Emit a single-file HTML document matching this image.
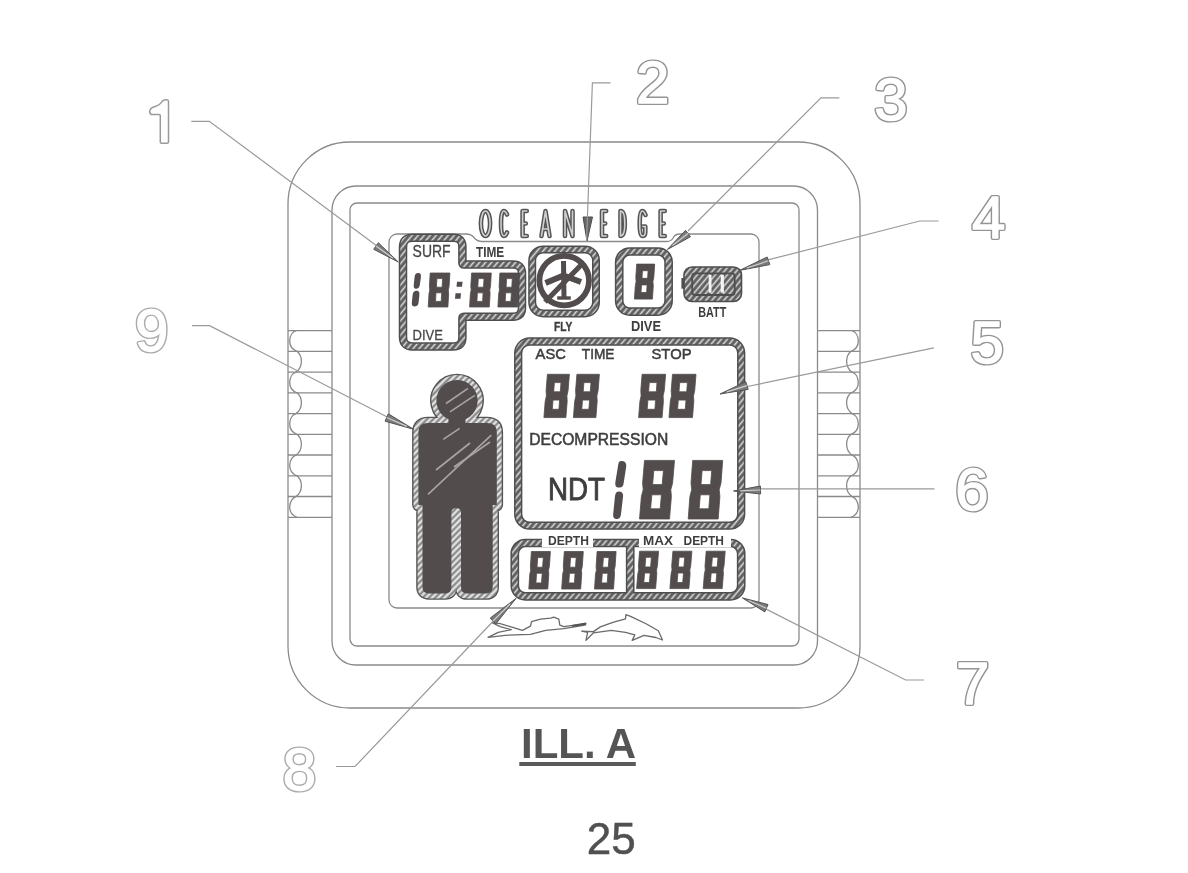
<!DOCTYPE html><html><head><meta charset="utf-8"><style>html,body{margin:0;padding:0;background:#fff;width:1188px;height:873px;overflow:hidden}svg{display:block;will-change:transform}</style></head><body><svg width="1188" height="873" viewBox="0 0 1188 873">
<defs><pattern id="hatch" width="4.6" height="4.6" patternUnits="userSpaceOnUse" patternTransform="rotate(40)"><rect width="4.6" height="4.6" fill="#5e5e5e"/><rect x="1.6" width="1.6" height="4.6" fill="#d8d8d8"/></pattern><pattern id="hatch2" width="4.4" height="4.4" patternUnits="userSpaceOnUse" patternTransform="rotate(45)"><rect width="4.4" height="4.4" fill="#8a8a8a"/><rect x="1.2" width="2.0" height="4.4" fill="#ececec"/></pattern></defs>
<rect width="1188" height="873" fill="#fff"/>
<g fill="none" stroke="#8a8a8a" stroke-width="1.3">
<path d="M350,142 H798 A62,62 0 0 1 860,204 V646 A62,62 0 0 1 798,708 H350 A62,62 0 0 1 288,646 V204 A62,62 0 0 1 350,142 Z"/>
<path d="M356,186 H793.5 A24,24 0 0 1 817.5,210 V641 A24,24 0 0 1 793.5,665 H356 A24,24 0 0 1 332,641 V210 A24,24 0 0 1 356,186 Z"/>
<path d="M357,203 H792 A7,7 0 0 1 799,210 V639 A7,7 0 0 1 792,646 H357 A7,7 0 0 1 350,639 V210 A7,7 0 0 1 357,203 Z"/>
<path d="M389,242 A8,8 0 0 1 397,234 H466 Q471,234 474,237.5 Q477,241.5 482,241.5 H667 Q671,241.5 673,238 Q675,234 680,234 H751 A8,8 0 0 1 759,242 V600 A8,8 0 0 1 751,608 H397 A8,8 0 0 1 389,600 Z"/>
<path d="M288,330.6 H332 M860,330.6 H817.5"/>
<path d="M288,351.3 H332 M860,351.3 H817.5"/>
<path d="M288,372.1 H332 M860,372.1 H817.5"/>
<path d="M288,392.8 H332 M860,392.8 H817.5"/>
<path d="M288,413.6 H332 M860,413.6 H817.5"/>
<path d="M288,434.3 H332 M860,434.3 H817.5"/>
<path d="M288,455.0 H332 M860,455.0 H817.5"/>
<path d="M288,475.8 H332 M860,475.8 H817.5"/>
<path d="M288,496.5 H332 M860,496.5 H817.5"/>
<path d="M288,517.3 H332 M860,517.3 H817.5"/>
<path d="M296,330.6 C289,332.6 286,347.3 297,351.3 C303,356.3 303,367.1 296,372.1 C289,374.1 286,388.8 297,392.8 C303,397.8 303,408.6 296,413.6 C289,415.6 286,430.3 297,434.3 C303,439.3 303,450.0 296,455.0 C289,457.0 286,471.8 297,475.8 C303,480.8 303,491.5 296,496.5 C289,498.5 286,513.3 297,517.3 "/><path d="M852,330.6 C859,332.6 862,347.3 851,351.3 C845,356.3 845,367.1 852,372.1 C859,374.1 862,388.8 851,392.8 C845,397.8 845,408.6 852,413.6 C859,415.6 862,430.3 851,434.3 C845,439.3 845,450.0 852,455.0 C859,457.0 862,471.8 851,475.8 C845,480.8 845,491.5 852,496.5 C859,498.5 862,513.3 851,517.3 "/>
</g>
<path d="M412.5,237.7 L453.4,237.7 Q462.4,237.7 462.4,246.7 L462.4,263.0 Q462.4,264.5 463.9,264.5 L513.0,264.5 Q522.0,264.5 522.0,273.5 L522.0,307.7 Q522.0,316.7 513.0,316.7 L463.9,316.7 Q462.4,316.7 462.4,318.2 L462.4,337.4 Q462.4,346.4 453.4,346.4 L412.5,346.4 Q403.0,346.4 403.0,336.9 L403.0,247.2 Q403.0,237.7 412.5,237.7 Z" fill="none" stroke="#4e4e4e" stroke-width="8.5" stroke-linejoin="round" />
<path d="M412.5,237.7 L453.4,237.7 Q462.4,237.7 462.4,246.7 L462.4,263.0 Q462.4,264.5 463.9,264.5 L513.0,264.5 Q522.0,264.5 522.0,273.5 L522.0,307.7 Q522.0,316.7 513.0,316.7 L463.9,316.7 Q462.4,316.7 462.4,318.2 L462.4,337.4 Q462.4,346.4 453.4,346.4 L412.5,346.4 Q403.0,346.4 403.0,336.9 L403.0,247.2 Q403.0,237.7 412.5,237.7 Z" fill="none" stroke="url(#hatch)" stroke-width="5.5" stroke-linejoin="round" />
<path d="M543.2,249.4 H585 A11,11 0 0 1 596,260.4 V302.5 A11,11 0 0 1 585,313.5 H543.2 A11,11 0 0 1 532.2,302.5 V260.4 A11,11 0 0 1 543.2,249.4 Z" fill="none" stroke="#4e4e4e" stroke-width="8.0" stroke-linejoin="round" />
<path d="M543.2,249.4 H585 A11,11 0 0 1 596,260.4 V302.5 A11,11 0 0 1 585,313.5 H543.2 A11,11 0 0 1 532.2,302.5 V260.4 A11,11 0 0 1 543.2,249.4 Z" fill="none" stroke="url(#hatch)" stroke-width="5.0" stroke-linejoin="round" />
<path d="M629.7,251.5 H658.1 A10.5,10.5 0 0 1 668.6,262.0 V301.1 A10.5,10.5 0 0 1 658.1,311.6 H629.7 A10.5,10.5 0 0 1 619.2,301.1 V262.0 A10.5,10.5 0 0 1 629.7,251.5 Z" fill="none" stroke="#4e4e4e" stroke-width="8.7" stroke-linejoin="round" />
<path d="M629.7,251.5 H658.1 A10.5,10.5 0 0 1 668.6,262.0 V301.1 A10.5,10.5 0 0 1 658.1,311.6 H629.7 A10.5,10.5 0 0 1 619.2,301.1 V262.0 A10.5,10.5 0 0 1 629.7,251.5 Z" fill="none" stroke="url(#hatch)" stroke-width="5.699999999999999" stroke-linejoin="round" />
<path d="M529.7,341.5 H729.7 A11.5,11.5 0 0 1 741.2,353.0 V514.2 A11.5,11.5 0 0 1 729.7,525.7 H529.7 A11.5,11.5 0 0 1 518.2,514.2 V353.0 A11.5,11.5 0 0 1 529.7,341.5 Z" fill="none" stroke="#4e4e4e" stroke-width="8.3" stroke-linejoin="round" />
<path d="M529.7,341.5 H729.7 A11.5,11.5 0 0 1 741.2,353.0 V514.2 A11.5,11.5 0 0 1 729.7,525.7 H529.7 A11.5,11.5 0 0 1 518.2,514.2 V353.0 A11.5,11.5 0 0 1 529.7,341.5 Z" fill="none" stroke="url(#hatch)" stroke-width="5.300000000000001" stroke-linejoin="round" />
<path d="M525.3,543 H730.7 A10.5,10.5 0 0 1 741.2,553.5 V585.8 A10.5,10.5 0 0 1 730.7,596.3 H525.3 A10.5,10.5 0 0 1 514.8,585.8 V553.5 A10.5,10.5 0 0 1 525.3,543 Z M630.2,543 V596.3" fill="none" stroke="#4e4e4e" stroke-width="8.7" stroke-linejoin="round" />
<path d="M525.3,543 H730.7 A10.5,10.5 0 0 1 741.2,553.5 V585.8 A10.5,10.5 0 0 1 730.7,596.3 H525.3 A10.5,10.5 0 0 1 514.8,585.8 V553.5 A10.5,10.5 0 0 1 525.3,543 Z M630.2,543 V596.3" fill="none" stroke="url(#hatch)" stroke-width="5.699999999999999" stroke-linejoin="round" />
<path d="M692,267 H733.5 A8,8 0 0 1 741.5,275 V293.5 A8,8 0 0 1 733.5,301.5 H692 A8,8 0 0 1 684,293.5 V275 A8,8 0 0 1 692,267 Z" fill="url(#hatch)" stroke="#4e4e4e" stroke-width="1.6"/>
<rect x="681.4" y="278" width="3" height="10.7" fill="#4e4e4e"/>
<rect x="692.2" y="273.4" width="42.5" height="21.6" rx="3" fill="url(#hatch)" stroke="#4e4e4e" stroke-width="1.8"/>
<rect x="708.7" y="275" width="2.8" height="17.7" fill="#f4f4f4"/><rect x="720.7" y="275" width="3.2" height="17.7" fill="#f4f4f4"/>
<rect x="542" y="534" width="51" height="13" fill="#fff"/>
<rect x="639" y="534" width="92" height="13" fill="#fff"/>
<path d="M448.5,423 H428 Q418.4,423 418.4,432 V505 H422.5 V587 Q422.5,593.5 429,593.5 H445 Q451.4,593.5 451.4,587 V513 Q451.4,508 456.2,508 Q461,508 461,513 V587 Q461,593.5 467,593.5 H486 Q492.7,593.5 492.7,587 V505 H496.8 V432 Q496.8,423 487,423 H465.5 V419.3 A20.6,20.6 0 1 0 448.5,419.3 Z" fill="none" stroke="#555" stroke-width="12.6" stroke-linejoin="round"/>
<path d="M448.5,423 H428 Q418.4,423 418.4,432 V505 H422.5 V587 Q422.5,593.5 429,593.5 H445 Q451.4,593.5 451.4,587 V513 Q451.4,508 456.2,508 Q461,508 461,513 V587 Q461,593.5 467,593.5 H486 Q492.7,593.5 492.7,587 V505 H496.8 V432 Q496.8,423 487,423 H465.5 V419.3 A20.6,20.6 0 1 0 448.5,419.3 Z" fill="none" stroke="url(#hatch2)" stroke-width="9.8" stroke-linejoin="round"/>
<path d="M448.5,423 H428 Q418.4,423 418.4,432 V505 H422.5 V587 Q422.5,593.5 429,593.5 H445 Q451.4,593.5 451.4,587 V513 Q451.4,508 456.2,508 Q461,508 461,513 V587 Q461,593.5 467,593.5 H486 Q492.7,593.5 492.7,587 V505 H496.8 V432 Q496.8,423 487,423 H465.5 V419.3 A20.6,20.6 0 1 0 448.5,419.3 Z" fill="#524c4d"/>
<g stroke="#a9a4a5" stroke-width="1.6" fill="none"><path d="M428,494.4 L491.3,435.2"/><path d="M454,467 L490,442"/><path d="M443.2,439.3 L459.7,428.3"/><path d="M446,403.5 L468,388.4"/><path d="M450,411.8 L474.8,395.3"/><path d="M436,470 L470,443"/></g>
<circle cx="564.2" cy="280.6" r="24.8" fill="none" stroke="#524c4d" stroke-width="5.8"/>
<g stroke="#524c4d" fill="none" stroke-linecap="butt"><path d="M563.5,261 L564,297.5" stroke-width="5"/><path d="M557.2,298 H570.8" stroke-width="3.4"/><path d="M545.5,283 L563.5,275.5 L581,282" stroke-width="6" stroke-linejoin="round"/><path d="M584,262 L545,302" stroke-width="5.2"/></g>
<path d="M418,273 C421,273 421.2,275 420.8,278 L419.8,285 C419.3,288 418,288.7 416,288.7 C413.8,288.7 413.5,287 413.8,284.5 L414.6,277 C415,274 416,273 418,273 Z M416.5,290.8 C419.5,290.8 419.7,293 419.3,296 L418.5,303 C418,305.7 416.5,306.4 414.5,306.4 C412,306.4 411.6,304.5 411.9,302 L412.6,295 C413,292 414.3,290.8 416.5,290.8 Z" fill="#524c4d"/>
<path d="M430.2,273.0 L449.9,273.0 L449.1,286.5 L448.3,290.0 L448.7,293.5 L447.9,307.0 L428.2,307.0 L429.0,293.5 L429.8,290.0 L429.4,286.5 Z M436.9,278.6 L442.6,278.6 L442.1,287.2 L436.4,287.2 Z M436.0,292.8 L441.7,292.8 L441.2,301.4 L435.5,301.4 Z" fill="#524c4d" fill-rule="evenodd" stroke="#524c4d" stroke-width="0.8" stroke-linejoin="round"/>
<path d="M457,281.7 H462.6 L462,286.7 H456.5 Z M455.5,293.3 H461 L460.5,298.8 H455 Z" fill="#524c4d"/>
<path d="M471.6,273.0 L491.3,273.0 L490.5,286.5 L489.7,290.0 L490.1,293.5 L489.3,307.0 L469.6,307.0 L470.4,293.5 L471.2,290.0 L470.8,286.5 Z M478.3,278.6 L484.0,278.6 L483.5,287.2 L477.8,287.2 Z M477.4,292.8 L483.1,292.8 L482.6,301.4 L476.9,301.4 Z" fill="#524c4d" fill-rule="evenodd" stroke="#524c4d" stroke-width="0.8" stroke-linejoin="round"/>
<path d="M499.9,273.0 L519.6,273.0 L518.8,286.5 L518.0,290.0 L518.4,293.5 L517.6,307.0 L497.9,307.0 L498.7,293.5 L499.5,290.0 L499.1,286.5 Z M506.6,278.6 L512.3,278.6 L511.8,287.2 L506.1,287.2 Z M505.7,292.8 L511.4,292.8 L510.9,301.4 L505.2,301.4 Z" fill="#524c4d" fill-rule="evenodd" stroke="#524c4d" stroke-width="0.8" stroke-linejoin="round"/>
<path d="M636.7,264.1 L654.7,264.1 L653.8,277.4 L652.9,281.6 L653.3,285.8 L652.4,299.1 L634.4,299.1 L635.3,285.8 L636.1,281.6 L635.8,277.4 Z M642.5,270.7 L648.1,270.7 L647.6,278.3 L642.0,278.3 Z M641.5,284.9 L647.1,284.9 L646.6,292.5 L641.0,292.5 Z" fill="#524c4d" fill-rule="evenodd" stroke="#524c4d" stroke-width="0.8" stroke-linejoin="round"/>
<path d="M547.4,374.3 L569.4,374.3 L568.1,390.6 L566.9,395.9 L567.2,401.3 L565.9,417.6 L543.9,417.6 L545.2,401.3 L546.4,395.9 L546.1,390.6 Z M554.4,382.6 L561.0,382.6 L560.3,391.8 L553.7,391.8 Z M553.0,400.1 L559.6,400.1 L558.9,409.3 L552.3,409.3 Z" fill="#524c4d" fill-rule="evenodd" stroke="#524c4d" stroke-width="0.8" stroke-linejoin="round"/>
<path d="M576.9,374.3 L599.4,374.3 L598.1,390.6 L596.9,395.9 L597.2,401.3 L595.9,417.6 L573.4,417.6 L574.7,401.3 L575.9,395.9 L575.6,390.6 Z M583.9,382.6 L591.0,382.6 L590.3,391.8 L583.2,391.8 Z M582.5,400.1 L589.6,400.1 L588.9,409.3 L581.8,409.3 Z" fill="#524c4d" fill-rule="evenodd" stroke="#524c4d" stroke-width="0.8" stroke-linejoin="round"/>
<path d="M642.1,374.3 L665.6,374.3 L664.3,390.6 L663.1,395.9 L663.4,401.3 L662.1,417.6 L638.6,417.6 L639.9,401.3 L641.1,395.9 L640.8,390.6 Z M649.3,382.6 L657.0,382.6 L656.3,391.8 L648.6,391.8 Z M647.9,400.1 L655.6,400.1 L654.9,409.3 L647.2,409.3 Z" fill="#524c4d" fill-rule="evenodd" stroke="#524c4d" stroke-width="0.8" stroke-linejoin="round"/>
<path d="M672.5,374.3 L696.0,374.3 L694.7,390.6 L693.5,395.9 L693.8,401.3 L692.5,417.6 L669.0,417.6 L670.3,401.3 L671.5,395.9 L671.2,390.6 Z M679.7,382.6 L687.4,382.6 L686.7,391.8 L679.0,391.8 Z M678.3,400.1 L686.0,400.1 L685.3,409.3 L677.6,409.3 Z" fill="#524c4d" fill-rule="evenodd" stroke="#524c4d" stroke-width="0.8" stroke-linejoin="round"/>
<path d="M621,461 C625,461 627,463 626,468 L623.5,484 C623,487 621,487.5 618.5,487.5 C615.5,487.5 615,485 615.4,482 L618,466 C618.5,462.5 619,461 621,461 Z M619,491.6 C622.5,491.6 623.5,494 623,497 L621,514 C620.5,518 619,519 616.5,519 C613.5,519 613,517 613.2,514 L615,496 C615.5,493 616.5,491.6 619,491.6 Z" fill="#524c4d"/>
<path d="M644.5,460.4 L674.5,460.4 L672.6,483.0 L670.8,489.7 L671.4,496.4 L669.5,519.0 L639.5,519.0 L641.4,496.4 L643.2,489.7 L642.6,483.0 Z M653.8,470.6 L663.4,470.6 L662.2,484.6 L652.6,484.6 Z M651.8,494.8 L661.4,494.8 L660.2,508.8 L650.6,508.8 Z" fill="#524c4d" fill-rule="evenodd" stroke="#524c4d" stroke-width="0.8" stroke-linejoin="round"/>
<path d="M692.7,460.4 L722.7,460.4 L721.0,483.0 L719.2,489.7 L719.9,496.4 L718.2,519.0 L688.2,519.0 L689.9,496.4 L691.7,489.7 L691.0,483.0 Z M702.1,470.6 L711.7,470.6 L710.6,484.6 L701.0,484.6 Z M700.3,494.8 L709.9,494.8 L708.8,508.8 L699.2,508.8 Z" fill="#524c4d" fill-rule="evenodd" stroke="#524c4d" stroke-width="0.8" stroke-linejoin="round"/>
<path d="M531.4,551.5 L550.4,551.5 L549.4,566.4 L548.5,570.2 L548.8,574.1 L547.8,589.0 L528.8,589.0 L529.8,574.1 L530.7,570.2 L530.4,566.4 Z M537.7,557.6 L543.3,557.6 L542.6,567.2 L537.0,567.2 Z M536.6,573.3 L542.2,573.3 L541.5,582.9 L535.9,582.9 Z" fill="#524c4d" fill-rule="evenodd" stroke="#524c4d" stroke-width="0.8" stroke-linejoin="round"/>
<path d="M564.3,551.5 L583.3,551.5 L582.3,566.4 L581.4,570.2 L581.7,574.1 L580.7,589.0 L561.7,589.0 L562.7,574.1 L563.6,570.2 L563.3,566.4 Z M570.6,557.6 L576.2,557.6 L575.5,567.2 L569.9,567.2 Z M569.5,573.3 L575.1,573.3 L574.4,582.9 L568.8,582.9 Z" fill="#524c4d" fill-rule="evenodd" stroke="#524c4d" stroke-width="0.8" stroke-linejoin="round"/>
<path d="M597.1,551.5 L616.1,551.5 L615.1,566.4 L614.2,570.2 L614.5,574.1 L613.5,589.0 L594.5,589.0 L595.5,574.1 L596.4,570.2 L596.1,566.4 Z M603.4,557.6 L609.0,557.6 L608.3,567.2 L602.7,567.2 Z M602.3,573.3 L607.9,573.3 L607.2,582.9 L601.6,582.9 Z" fill="#524c4d" fill-rule="evenodd" stroke="#524c4d" stroke-width="0.8" stroke-linejoin="round"/>
<path d="M639.6,551.2 L658.6,551.2 L657.4,566.1 L656.5,569.9 L656.8,573.8 L655.6,588.6 L636.6,588.6 L637.8,573.8 L638.7,569.9 L638.4,566.1 Z M645.8,557.3 L651.4,557.3 L650.6,566.9 L645.0,566.9 Z M644.6,573.0 L650.2,573.0 L649.4,582.5 L643.8,582.5 Z" fill="#524c4d" fill-rule="evenodd" stroke="#524c4d" stroke-width="0.8" stroke-linejoin="round"/>
<path d="M672.9,551.2 L691.9,551.2 L690.7,566.1 L689.8,569.9 L690.1,573.8 L688.9,588.6 L669.9,588.6 L671.1,573.8 L672.0,569.9 L671.7,566.1 Z M679.1,557.3 L684.7,557.3 L683.9,566.9 L678.3,566.9 Z M677.9,573.0 L683.5,573.0 L682.7,582.5 L677.1,582.5 Z" fill="#524c4d" fill-rule="evenodd" stroke="#524c4d" stroke-width="0.8" stroke-linejoin="round"/>
<path d="M706.2,551.2 L725.2,551.2 L724.0,566.1 L723.1,569.9 L723.4,573.8 L722.2,588.6 L703.2,588.6 L704.4,573.8 L705.3,569.9 L705.0,566.1 Z M712.4,557.3 L718.0,557.3 L717.2,566.9 L711.6,566.9 Z M711.2,573.0 L716.8,573.0 L716.0,582.5 L710.4,582.5 Z" fill="#524c4d" fill-rule="evenodd" stroke="#524c4d" stroke-width="0.8" stroke-linejoin="round"/>
<text x="412.6" y="257" font-family="Liberation Sans" font-size="15.8" font-weight="normal" fill="#474747" text-anchor="start" textLength="38" lengthAdjust="spacingAndGlyphs" stroke="#474747" stroke-width="0.3">SURF</text>
<text x="475.9" y="257" font-family="Liberation Sans" font-size="15.5" font-weight="bold" fill="#3e3e3e" text-anchor="start" textLength="28.3" lengthAdjust="spacingAndGlyphs" >TIME</text>
<text x="412.6" y="340.4" font-family="Liberation Sans" font-size="15.5" font-weight="normal" fill="#474747" text-anchor="start" textLength="30.4" lengthAdjust="spacingAndGlyphs" stroke="#474747" stroke-width="0.3">DIVE</text>
<text x="554" y="330.6" font-family="Liberation Sans" font-size="13.5" font-weight="bold" fill="#3e3e3e" text-anchor="start" textLength="18.3" lengthAdjust="spacingAndGlyphs" stroke="#3e3e3e" stroke-width="0.4">FLY</text>
<text x="631" y="331.4" font-family="Liberation Sans" font-size="14.5" font-weight="bold" fill="#3e3e3e" text-anchor="start" textLength="30" lengthAdjust="spacingAndGlyphs" >DIVE</text>
<text x="698.2" y="316.9" font-family="Liberation Sans" font-size="14.5" font-weight="bold" fill="#3e3e3e" text-anchor="start" textLength="28.1" lengthAdjust="spacingAndGlyphs" >BATT</text>
<text x="535.6" y="359" font-family="Liberation Sans" font-size="15.5" font-weight="normal" fill="#3e3e3e" text-anchor="start" textLength="30.3" lengthAdjust="spacingAndGlyphs" stroke="#3e3e3e" stroke-width="0.55">ASC</text>
<text x="581.8" y="359" font-family="Liberation Sans" font-size="15.5" font-weight="normal" fill="#3e3e3e" text-anchor="start" textLength="32.6" lengthAdjust="spacingAndGlyphs" stroke="#3e3e3e" stroke-width="0.55">TIME</text>
<text x="651.5" y="359" font-family="Liberation Sans" font-size="15.5" font-weight="normal" fill="#3e3e3e" text-anchor="start" textLength="40" lengthAdjust="spacingAndGlyphs" stroke="#3e3e3e" stroke-width="0.55">STOP</text>
<text x="529.2" y="444.7" font-family="Liberation Sans" font-size="16.5" font-weight="normal" fill="#3e3e3e" text-anchor="start" textLength="139" lengthAdjust="spacingAndGlyphs" stroke="#3e3e3e" stroke-width="0.55">DECOMPRESSION</text>
<text x="548" y="500" font-family="Liberation Sans" font-size="32" font-weight="normal" fill="#3e3e3e" text-anchor="start" textLength="57" lengthAdjust="spacingAndGlyphs" stroke="#3e3e3e" stroke-width="0.9">NDT</text>
<text x="548" y="545.2" font-family="Liberation Sans" font-size="13.5" font-weight="bold" fill="#3e3e3e" text-anchor="start" textLength="41" lengthAdjust="spacingAndGlyphs" >DEPTH</text>
<text x="643.1" y="544.6" font-family="Liberation Sans" font-size="13.5" font-weight="bold" fill="#3e3e3e" text-anchor="start" textLength="30" lengthAdjust="spacingAndGlyphs" >MAX</text>
<text x="683.5" y="544.6" font-family="Liberation Sans" font-size="13.5" font-weight="bold" fill="#3e3e3e" text-anchor="start" textLength="40.5" lengthAdjust="spacingAndGlyphs" >DEPTH</text>
<path d="M485.5,211 A4.6,12.5 0 1 0 485.5,236 A4.6,12.5 0 1 0 485.5,211 Z M507,214.5 Q505.5,211 503.8,211 Q501,211 501,223.5 Q501,236 503.8,236 Q505.5,236 507,232.5 M526.8000000000001,211 H522.6 V236 H526.8000000000001 M522.6,223.5 H525.8000000000001 M541.5,236 L545.5,211 L549.5,236 M542.6,229 H548.4 M565,236 V211 L572.5,236 V211 M606.2,211 H602 V236 H606.2 M602,223.5 H605.2 M620.5,211 V236 Q624.8,236 624.8,223.5 Q624.8,211 620.5,211 M645.5,215 Q644,211 642.3,211 Q639.7,211 639.7,223.5 Q639.7,236 642.3,236 Q645.3,236 645.3,232 V226.5 H642.8 M664.8000000000001,211 H660.6 V236 H664.8000000000001 M660.6,223.5 H663.8000000000001" fill="none" stroke="#555" stroke-width="4.6" stroke-linecap="round" stroke-linejoin="round"/>
<path d="M485.5,211 A4.6,12.5 0 1 0 485.5,236 A4.6,12.5 0 1 0 485.5,211 Z M507,214.5 Q505.5,211 503.8,211 Q501,211 501,223.5 Q501,236 503.8,236 Q505.5,236 507,232.5 M526.8000000000001,211 H522.6 V236 H526.8000000000001 M522.6,223.5 H525.8000000000001 M541.5,236 L545.5,211 L549.5,236 M542.6,229 H548.4 M565,236 V211 L572.5,236 V211 M606.2,211 H602 V236 H606.2 M602,223.5 H605.2 M620.5,211 V236 Q624.8,236 624.8,223.5 Q624.8,211 620.5,211 M645.5,215 Q644,211 642.3,211 Q639.7,211 639.7,223.5 Q639.7,236 642.3,236 Q645.3,236 645.3,232 V226.5 H642.8 M664.8000000000001,211 H660.6 V236 H664.8000000000001 M660.6,223.5 H663.8000000000001" fill="none" stroke="#d0d0d0" stroke-width="1.6" stroke-linecap="round" stroke-linejoin="round"/>
<path d="M583,217 L592.5,217 L587,241 Z" fill="#666" stroke="#4a4a4a" stroke-width="1"/>
<path d="M492.1,622.7 L500.2,623.7 L510.3,626.7 L522.4,630.3 L530.5,626.2 L531.5,621.7 L540.6,619.1 L550.7,618.1 L553.7,617.1 L558.8,619.1 L559.8,625.2 L563.8,626.7 L586,623.7 L585,625.2 L563.8,628.7 L545.7,630.3 L530.5,634.3 L505.3,635.3 L488.1,637.3 L498.2,632.3 L511.3,629.7 L500.2,626.7 Z" fill="none" stroke="#6a6a6a" stroke-width="1.3" stroke-linejoin="round"/>
<path d="M581.7,631.1 L593.5,631.6 L600.3,626.9 L612.9,622.3 L625.5,618.9 L625.9,614.7 L630.6,616.4 L646.5,624 L658.3,630.7 L662.5,640 L655.8,637.5 L644,635.4 L632.2,640.4 L634.8,634.9 L625.5,632.4 L611.2,630.3 L593.5,632.8 L586,640.4 L587.6,632.4 Z" fill="none" stroke="#6a6a6a" stroke-width="1.3" stroke-linejoin="round"/>
<path d="M572,626 L586,623.7" stroke="#555" stroke-width="2.2"/>
<g fill="none" stroke="#9a9a9a" stroke-width="1.2">
<path d="M191.3,121.3 H209.3 L385,252"/>
<path d="M610.5,82.8 H592.4 L586.5,242"/>
<path d="M839.3,97.9 H821 L688,231"/>
<path d="M938.6,221 H919.7 L760,262"/>
<path d="M933.9,347.8 L740,388"/>
<path d="M934.5,488.8 H750"/>
<path d="M923.8,680 H905.6 L760,606"/>
<path d="M336,766.5 H355 L500,614"/>
<path d="M192,325.6 H209.6 L395,421"/>
</g>
<path d="M398.3,262 L378.3,242.7 L373.7,249.3 Z" fill="#7a7a7a" stroke="#555" stroke-width="1.0" stroke-linejoin="round"/>
<path d="M392.7,258.0 L376.0,246.0" stroke="#cfcfcf" stroke-width="1.2"/>
<path d="M667.4,249.5 L690.5,236.7 L685.5,230.3 Z" fill="#7a7a7a" stroke="#555" stroke-width="1.0" stroke-linejoin="round"/>
<path d="M672.5,245.5 L688.0,233.5" stroke="#cfcfcf" stroke-width="1.2"/>
<path d="M739.6,270.4 L769.8,264.6 L767.2,257.0 Z" fill="#7a7a7a" stroke="#555" stroke-width="1.0" stroke-linejoin="round"/>
<path d="M746.8,268.0 L768.5,260.8" stroke="#cfcfcf" stroke-width="1.2"/>
<path d="M720,394 L748.2,389.4 L745.8,381.8 Z" fill="#7a7a7a" stroke="#555" stroke-width="1.0" stroke-linejoin="round"/>
<path d="M726.8,391.9 L747.0,385.6" stroke="#cfcfcf" stroke-width="1.2"/>
<path d="M733.5,491 L760.6,494.0 L760.4,486.0 Z" fill="#7a7a7a" stroke="#555" stroke-width="1.0" stroke-linejoin="round"/>
<path d="M740.2,490.8 L760.5,490.0" stroke="#cfcfcf" stroke-width="1.2"/>
<path d="M742.4,597.9 L764.8,611.9 L768.0,604.5 Z" fill="#7a7a7a" stroke="#555" stroke-width="1.0" stroke-linejoin="round"/>
<path d="M748.4,600.5 L766.4,608.2" stroke="#cfcfcf" stroke-width="1.2"/>
<path d="M516,598.4 L490.2,618.1 L495.8,623.9 Z" fill="#7a7a7a" stroke="#555" stroke-width="1.0" stroke-linejoin="round"/>
<path d="M510.2,604.0 L493.0,621.0" stroke="#cfcfcf" stroke-width="1.2"/>
<path d="M413.7,429.3 L388.3,413.8 L385.1,421.2 Z" fill="#7a7a7a" stroke="#555" stroke-width="1.0" stroke-linejoin="round"/>
<path d="M406.9,426.4 L386.7,417.5" stroke="#cfcfcf" stroke-width="1.2"/>
<path d="M151,114.5 Q149,113 150,110 Q151,107.5 155,106.5 Q160,105 162,101.5 Q163.5,99.7 165.5,99.7 H167 Q168.5,99.7 168.5,101.5 V142 Q168.5,143.3 167,143.3 H161.5 Q160.3,143.3 160.3,142 V115.5 Q160.3,114.5 159,114.5 Z" fill="#fff" stroke="#9a9a9a" stroke-width="1.5"/>
<text x="636.0" y="102.6" font-family="Liberation Sans" font-size="60" fill="#fff" stroke="#949494" stroke-width="4.2" stroke-linejoin="round">2</text>
<text x="636.0" y="102.6" font-family="Liberation Sans" font-size="60" fill="#fff" stroke="#fff" stroke-width="1.3" stroke-linejoin="round">2</text>
<text x="874.2" y="119.9" font-family="Liberation Sans" font-size="60" fill="#fff" stroke="#949494" stroke-width="4.2" stroke-linejoin="round">3</text>
<text x="874.2" y="119.9" font-family="Liberation Sans" font-size="60" fill="#fff" stroke="#fff" stroke-width="1.3" stroke-linejoin="round">3</text>
<text x="971.9000000000001" y="237.6" font-family="Liberation Sans" font-size="60" fill="#fff" stroke="#949494" stroke-width="4.2" stroke-linejoin="round">4</text>
<text x="971.9000000000001" y="237.6" font-family="Liberation Sans" font-size="60" fill="#fff" stroke="#fff" stroke-width="1.3" stroke-linejoin="round">4</text>
<text x="970.5" y="363.4" font-family="Liberation Sans" font-size="60" fill="#fff" stroke="#949494" stroke-width="4.2" stroke-linejoin="round">5</text>
<text x="970.5" y="363.4" font-family="Liberation Sans" font-size="60" fill="#fff" stroke="#fff" stroke-width="1.3" stroke-linejoin="round">5</text>
<text x="955.2" y="509.7" font-family="Liberation Sans" font-size="60" fill="#fff" stroke="#949494" stroke-width="4.2" stroke-linejoin="round">6</text>
<text x="955.2" y="509.7" font-family="Liberation Sans" font-size="60" fill="#fff" stroke="#fff" stroke-width="1.3" stroke-linejoin="round">6</text>
<text x="956.0" y="703.6" font-family="Liberation Sans" font-size="60" fill="#fff" stroke="#949494" stroke-width="4.2" stroke-linejoin="round">7</text>
<text x="956.0" y="703.6" font-family="Liberation Sans" font-size="60" fill="#fff" stroke="#fff" stroke-width="1.3" stroke-linejoin="round">7</text>
<text x="282.8" y="789.7" font-family="Liberation Sans" font-size="60" fill="#fff" stroke="#acacac" stroke-width="4.2" stroke-linejoin="round">8</text>
<text x="282.8" y="789.7" font-family="Liberation Sans" font-size="60" fill="#fff" stroke="#fff" stroke-width="1.3" stroke-linejoin="round">8</text>
<text x="135.1" y="350.9" font-family="Liberation Sans" font-size="60" fill="#fff" stroke="#acacac" stroke-width="4.2" stroke-linejoin="round">9</text>
<text x="135.1" y="350.9" font-family="Liberation Sans" font-size="60" fill="#fff" stroke="#fff" stroke-width="1.3" stroke-linejoin="round">9</text>
<text x="521" y="757.7" font-family="Liberation Sans" font-size="42" font-weight="bold" fill="#555" text-anchor="start" >ILL. A</text>
<rect x="519.3" y="762" width="116.5" height="4" fill="#5a5a5a"/>
<text x="586.8" y="854.3" font-family="Liberation Sans" font-size="44" font-weight="normal" fill="#505050" text-anchor="start" stroke="#505050" stroke-width="0.5">25</text>
</svg></body></html>
